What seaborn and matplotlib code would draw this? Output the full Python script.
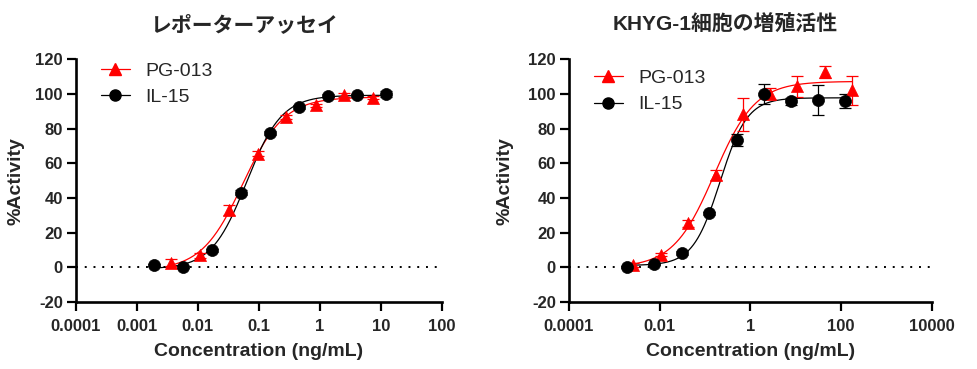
import numpy as np
import pandas as pd
import matplotlib
matplotlib.use("Agg")
import matplotlib.pyplot as plt
from matplotlib.lines import Line2D
import seaborn as sns

# ---- data ----
# left panel: reporter assay
rep_il15_conc = [0.0019, 0.0057, 0.017, 0.051, 0.15, 0.45, 1.37, 4.15, 12.4]
rep_il15_act = [1.5, 0.3, 9.8, 43.0, 77.5, 92.5, 99.0, 99.2, 100.0]
rep_il15_err = [0.5, 0.5, 1.0, 1.5, 1.0, 1.0, 1.0, 1.0, 2.0]
rep_pg_conc = [0.0036, 0.0108, 0.032, 0.096, 0.28, 0.86, 2.5, 7.5]
rep_pg_act = [2.7, 6.9, 32.9, 65.6, 86.7, 93.5, 99.4, 97.9]
rep_pg_err = [2.0, 1.5, 3.0, 1.5, 1.0, 1.0, 1.0, 1.0]

# right panel: KHYG-1 proliferation
khyg_il15_conc = [0.0019, 0.0076, 0.031, 0.124, 0.5, 1.95, 7.8, 31.5, 125]
khyg_il15_act = [0.0, 1.7, 8.3, 31.2, 73.6, 100.0, 95.8, 96.7, 96.0]
khyg_il15_err = [0.5, 0.5, 1.0, 1.0, 3.5, 5.8, 2.0, 8.7, 4.0]
khyg_pg_conc = [0.0026, 0.0107, 0.043, 0.174, 0.7, 2.7, 10.8, 43.4, 174]
khyg_pg_act = [1.3, 7.3, 25.4, 53.2, 88.2, 100.2, 104.4, 112.5, 102.1]
khyg_pg_err = [1.0, 1.0, 2.0, 3.0, 9.5, 3.0, 6.0, 3.5, 8.3]

series_names = ["PG-013", "IL-15"]
series_colors = {"PG-013": "#ff0000", "IL-15": "#000000"}
series_markers = {"PG-013": "^", "IL-15": "o"}

titles = ["レポーターアッセイ", "KHYG-1細胞の増殖活性"]
left_xticks = [1e-4, 1e-3, 1e-2, 1e-1, 1, 10, 100]
left_xlabels = ["0.0001", "0.001", "0.01", "0.1", "1", "10", "100"]
right_xticks = [1e-4, 1e-2, 1, 100, 1e4]
right_xlabels = ["0.0001", "0.01", "1", "100", "10000"]
yticks = [-20, 0, 20, 40, 60, 80, 100, 120]


def fit_4pl(conc, act):
    # grid search on logEC50 / hill, linear least squares for bottom / top
    lx = np.log10(conc)
    y = np.asarray(act)
    best = None
    for le in np.linspace(lx.min(), lx.max(), 400):
        for h in np.linspace(0.4, 3.0, 140):
            s = 1.0 / (1.0 + 10 ** ((le - lx) * h))
            A = np.column_stack([1 - s, s])
            coef, res, *_ = np.linalg.lstsq(A, y, rcond=None)
            sse = np.sum((A @ coef - y) ** 2)
            if best is None or sse < best[0]:
                best = (sse, le, h, coef[0], coef[1])
    return best[1:]


def fit_curve(conc, act):
    le, h, bot, top = fit_4pl(conc, act)
    xs = np.logspace(np.log10(min(conc)), np.log10(max(conc)), 300)
    ys = bot + (top - bot) / (1.0 + 10 ** ((le - np.log10(xs)) * h))
    return pd.DataFrame({"conc": xs, "act": ys})


sns.set_style("ticks")
plt.rcParams["font.family"] = ["Liberation Sans", "Noto Sans CJK JP"]

fig = plt.figure(figsize=(9.78, 3.69), dpi=100)
ax1 = fig.add_axes([0.0777, 0.1816, 0.3739, 0.6577])
ax2 = fig.add_axes([0.5818, 0.1816, 0.3709, 0.6577])

panels = [
    (ax1, {"PG-013": (rep_pg_conc, rep_pg_act, rep_pg_err),
           "IL-15": (rep_il15_conc, rep_il15_act, rep_il15_err)},
     (1e-4, 100), left_xticks, left_xlabels, -0.142, 1.06),
    (ax2, {"PG-013": (khyg_pg_conc, khyg_pg_act, khyg_pg_err),
           "IL-15": (khyg_il15_conc, khyg_il15_act, khyg_il15_err)},
     (1e-4, 1e4), right_xticks, right_xlabels, -0.152, 1.03),
]

for ax, data, xlim, xt, xl, ylab_x, leg_y in panels:
    ax.set_xscale("log")
    ax.axhline(0, color="black", linestyle=(0, (1, 3.5)), linewidth=1.4, zorder=1)
    for name in series_names:
        conc, act, err = data[name]
        col = series_colors[name]
        curve = fit_curve(conc, act)
        sns.lineplot(data=curve, x="conc", y="act", color=col, linewidth=0.9, ax=ax, zorder=2)
        ax.errorbar(conc, act, yerr=err, fmt="none", ecolor=col, elinewidth=0.9,
                    capsize=4, capthick=0.9, zorder=3)
        sns.scatterplot(x=conc, y=act, marker=series_markers[name], color=col,
                        s=75, edgecolor=col, linewidth=0.5, ax=ax, zorder=4)
    ax.set_xlim(*xlim)
    ax.set_ylim(-20, 120)
    ax.set_xticks(xt)
    ax.set_xticklabels(xl)
    ax.minorticks_off()
    ax.set_yticks(yticks)
    ax.set_yticklabels([str(v) for v in yticks])
    for lab in ax.get_xticklabels() + ax.get_yticklabels():
        lab.set_fontweight("bold")
        lab.set_fontsize(12)
    ax.tick_params(axis="both", direction="out", length=6.5, width=1.6, pad=3, color="black")
    ax.tick_params(axis="x", pad=6)
    for sp in ["top", "right"]:
        ax.spines[sp].set_visible(False)
    for sp in ["left", "bottom"]:
        ax.spines[sp].set_linewidth(1.9)
        ax.spines[sp].set_color("black")
    ax.set_xlabel("Concentration (ng/mL)", fontsize=14, fontweight="bold")
    ax.set_ylabel("%Activity", fontsize=14, fontweight="bold")
    ax.xaxis.set_label_coords(0.5, -0.17)
    ax.yaxis.set_label_coords(ylab_x, 0.5)
    handles = [Line2D([], [], color=series_colors[n], marker=series_markers[n],
                      markersize=8, linewidth=0.9) for n in series_names]
    ax.legend(handles, series_names, loc="upper left", bbox_to_anchor=(0.02, leg_y),
              frameon=False, fontsize=14, handlelength=1.5, handletextpad=0.8,
              labelspacing=0.45)

fig.text(0.2505, 0.932, titles[0], ha="center", va="center", fontsize=15, fontweight="bold")
fig.text(0.7413, 0.932, titles[1], ha="center", va="center", fontsize=15, fontweight="bold")

fig.savefig("out.png", dpi=100)
